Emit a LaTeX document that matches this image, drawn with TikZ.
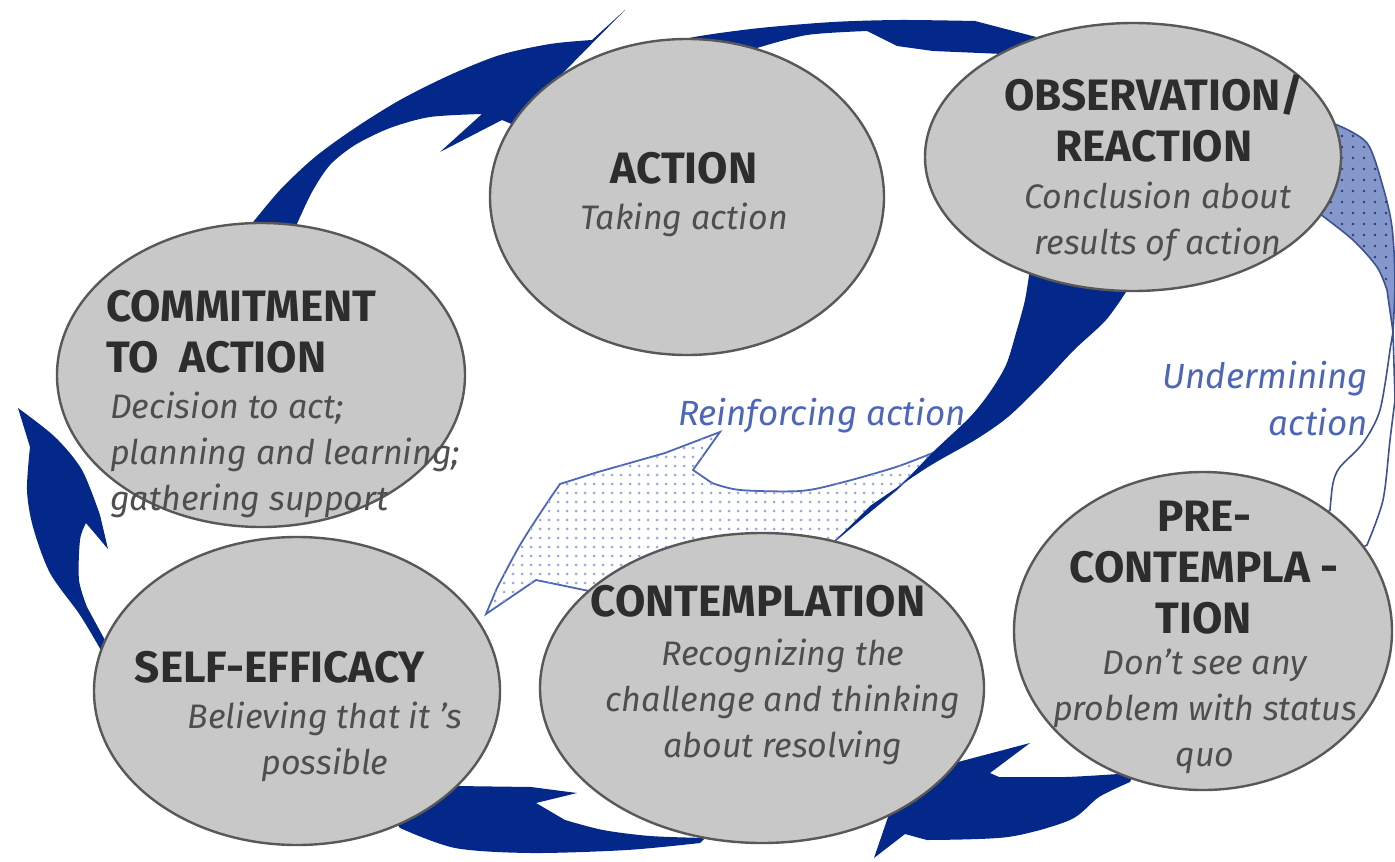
\documentclass[tikz,border=0pt]{standalone}
\usepackage{fontspec}
\setmainfont{Fira Sans}
\usetikzlibrary{shapes.geometric, backgrounds, patterns.meta}

\definecolor{stagefill}{RGB}{200,200,200}
\definecolor{stageline}{RGB}{88,88,88}
\definecolor{titletext}{RGB}{45,45,45}
\definecolor{notetext}{RGB}{78,78,78}
\definecolor{cycleblue}{RGB}{3,40,138}
\definecolor{linkblue}{RGB}{78,102,184}
\definecolor{dotblue}{RGB}{150,168,222}
\definecolor{underfill}{RGB}{132,152,204}

\tikzset{
	stage/.style={shape=ellipse, draw=stageline, fill=stagefill, line width=2.4pt, inner sep=0pt},
	title/.style={anchor=base, align=center, inner sep=0pt, text=titletext, font=\fontsize{44}{51}\selectfont\bfseries},
	note/.style={anchor=base, align=center, inner sep=0pt, text=notetext, font=\fontsize{34}{46}\selectfont\itshape},
	link label/.style={anchor=base, inner sep=0pt, text=linkblue, font=\fontsize{35}{47}\selectfont\itshape},
	cycle arrow/.style={fill=cycleblue},
	reinforce/.style={draw=linkblue, line width=1.8pt, fill=white, postaction={pattern={Dots[distance=9pt, radius=1.5pt]}, pattern color=dotblue}},
	undermine/.style={draw=linkblue!80!black, line width=1.6pt, fill=underfill, postaction={pattern={Dots[distance=11pt, radius=1.4pt]}, pattern color=linkblue!60!black}},
}

\begin{document}
\begin{tikzpicture}[x=1pt, y=-1pt]
	\useasboundingbox (0,0) rectangle (1395,862);
	% Stages of the cycle (multi-line texts sit on their last baseline)
	\node[stage, minimum width=394pt, minimum height=316pt] (action) at (687,197) {};
	\node[stage, minimum width=416pt, minimum height=268pt] (observe) at (1133,157) {};
	\node[stage, minimum width=408pt, minimum height=304pt] (commit) at (261,375) {};
	\node[stage, minimum width=406pt, minimum height=308pt] (selfeff) at (297,691) {};
	\node[stage, minimum width=444pt, minimum height=310pt] (contemp) at (762,688) {};
	\node[stage, minimum width=378pt, minimum height=318pt] (precon) at (1203,631) {};

	\node[title] (action title) at (684,183) {ACTION};
	\node[note] (action note) at (684,229) {Taking action};
	\node[title] (observe title) at (1154,161) {OBSERVATION/\\REACTION};
	\node[note] (observe note) at (1158,254) {Conclusion about\\results of action};
	\node[title, anchor=base west, align=left] (commit title) at (106,372) {COMMITMENT\\TO\ \ ACTION};
	\node[note, anchor=base west, align=left] (commit note) at (110,510) {Decision to act;\\planning and learning;\\gathering support};
	\node[title] (selfeff title) at (280,682) {SELF-EFFICACY};
	\node[note] (selfeff note) at (325,774) {Believing that it 's\\possible};
	\node[title] (contemp title) at (758,616) {CONTEMPLATION};
	\node[note] (contemp note) at (783,757) {Recognizing the\\challenge and thinking\\about resolving};
	\node[title] (precon title) at (1204,633) {PRE-\\CONTEMPLA -\\TION};
	\node[note] (precon note) at (1205,766) {Don't see any\\problem with status\\quo};

	\node[link label] (reinforce label) at (822,425) {Reinforcing action};
	\node[link label, anchor=base east, align=right] (undermine label) at (1368,435) {Undermining\\action};

	% Curved arrows run behind the stages
	\begin{pgfonlayer}{background}
		\fill[cycle arrow] (commit.center) -- plot[smooth] coordinates {(250,226) (280,190) (315,157) (355,128) (400,100) (450,75) (500,55) (550,44) (592,40)}
			-- (625,10) -- (556,80) -- (action.center) -- (502,120) -- (440,152)
			-- plot[smooth] coordinates {(482,114) (430,117) (390,128) (355,145) (330,165) (312,192) (296,226)} -- cycle;
		\fill[cycle arrow] (action.center) -- plot[smooth] coordinates {(650,46) (700,36) (760,28) (833,22) (900,20) (975,21)}
			-- (1040,38) -- (observe.center) -- (1003,54) -- (933,51) -- (897,46)
			-- plot[smooth] coordinates {(867,31) (807,35) (757,48)} -- cycle;
		\filldraw[reinforce] (486,614) -- plot[smooth] coordinates {(497,588) (520,545) (545,506) (560,484)}
			-- (598,472) -- (665,453) -- (720,432) -- (693,470)
			-- plot[smooth] coordinates {(712,483) (740,490) (800,491) (840,483) (896,467) (935,452)}
			-- (915,472) -- (896,490) -- (865,515) -- (836,540) -- (contemp.center) -- (594,592) -- (536,580) -- cycle;
		\fill[cycle arrow] (observe.center) -- plot[smooth] coordinates {(1030,268) (1025,300) (1016,333) (1006,365) (990,392) (970,417) (932,453) (896,490) (836,540)}
			-- plot[smooth] coordinates {(870,506) (928,467) (975,440) (1008,417) (1043,383) (1074,350) (1106,320) (1128,289)} -- cycle;
		\filldraw[undermine] (observe.center) -- plot[smooth] coordinates {(1335,124) (1367,143) (1383,187) (1392,227) (1395,280) (1393,332)}
			-- plot[smooth] coordinates {(1387,290) (1377,267) (1353,240) (1320,214)} -- cycle;
		\draw[draw=linkblue!80!black, line width=1.6pt] (1393,332) -- plot[smooth] coordinates {(1395,400) (1390,440) (1383,500) (1367,545)}
			-- (precon.center) -- plot[smooth] coordinates {(1330,510) (1333,483) (1340,467) (1363,443) (1380,410) (1390,350)} -- cycle;
		\fill[cycle arrow] (precon.center) -- plot[smooth] coordinates {(1118,774) (1065,777) (999,777)}
			-- (990,773) -- (1030,743) -- (958,762) -- (contemp.center) -- (888,817) -- (874,858) -- (905,834)
			-- plot[smooth] coordinates {(927,840) (1008,837) (1070,820) (1099,797) (1130,782)} -- cycle;
		\fill[cycle arrow] (selfeff.center) -- (455,786) -- (531,787) -- (577,793) -- (536,803)
			-- plot[smooth] coordinates {(565,820) (603,830) (650,836) (705,838)}
			-- plot[smooth] coordinates {(700,843) (627,850) (531,853) (455,848) (400,828)} -- cycle;
		\fill[cycle arrow] (selfeff.center) -- (106,642) -- plot[smooth] coordinates {(87,607) (79,580) (80,540) (86,523)}
			-- (108,549) -- plot[smooth] coordinates {(100,515) (82,470) (55,437) (18,408)}
			-- plot[smooth] coordinates {(30,447) (27,490) (33,527) (50,573) (80,615) (102,652)} -- cycle;
	\end{pgfonlayer}
\end{tikzpicture}
\end{document}
